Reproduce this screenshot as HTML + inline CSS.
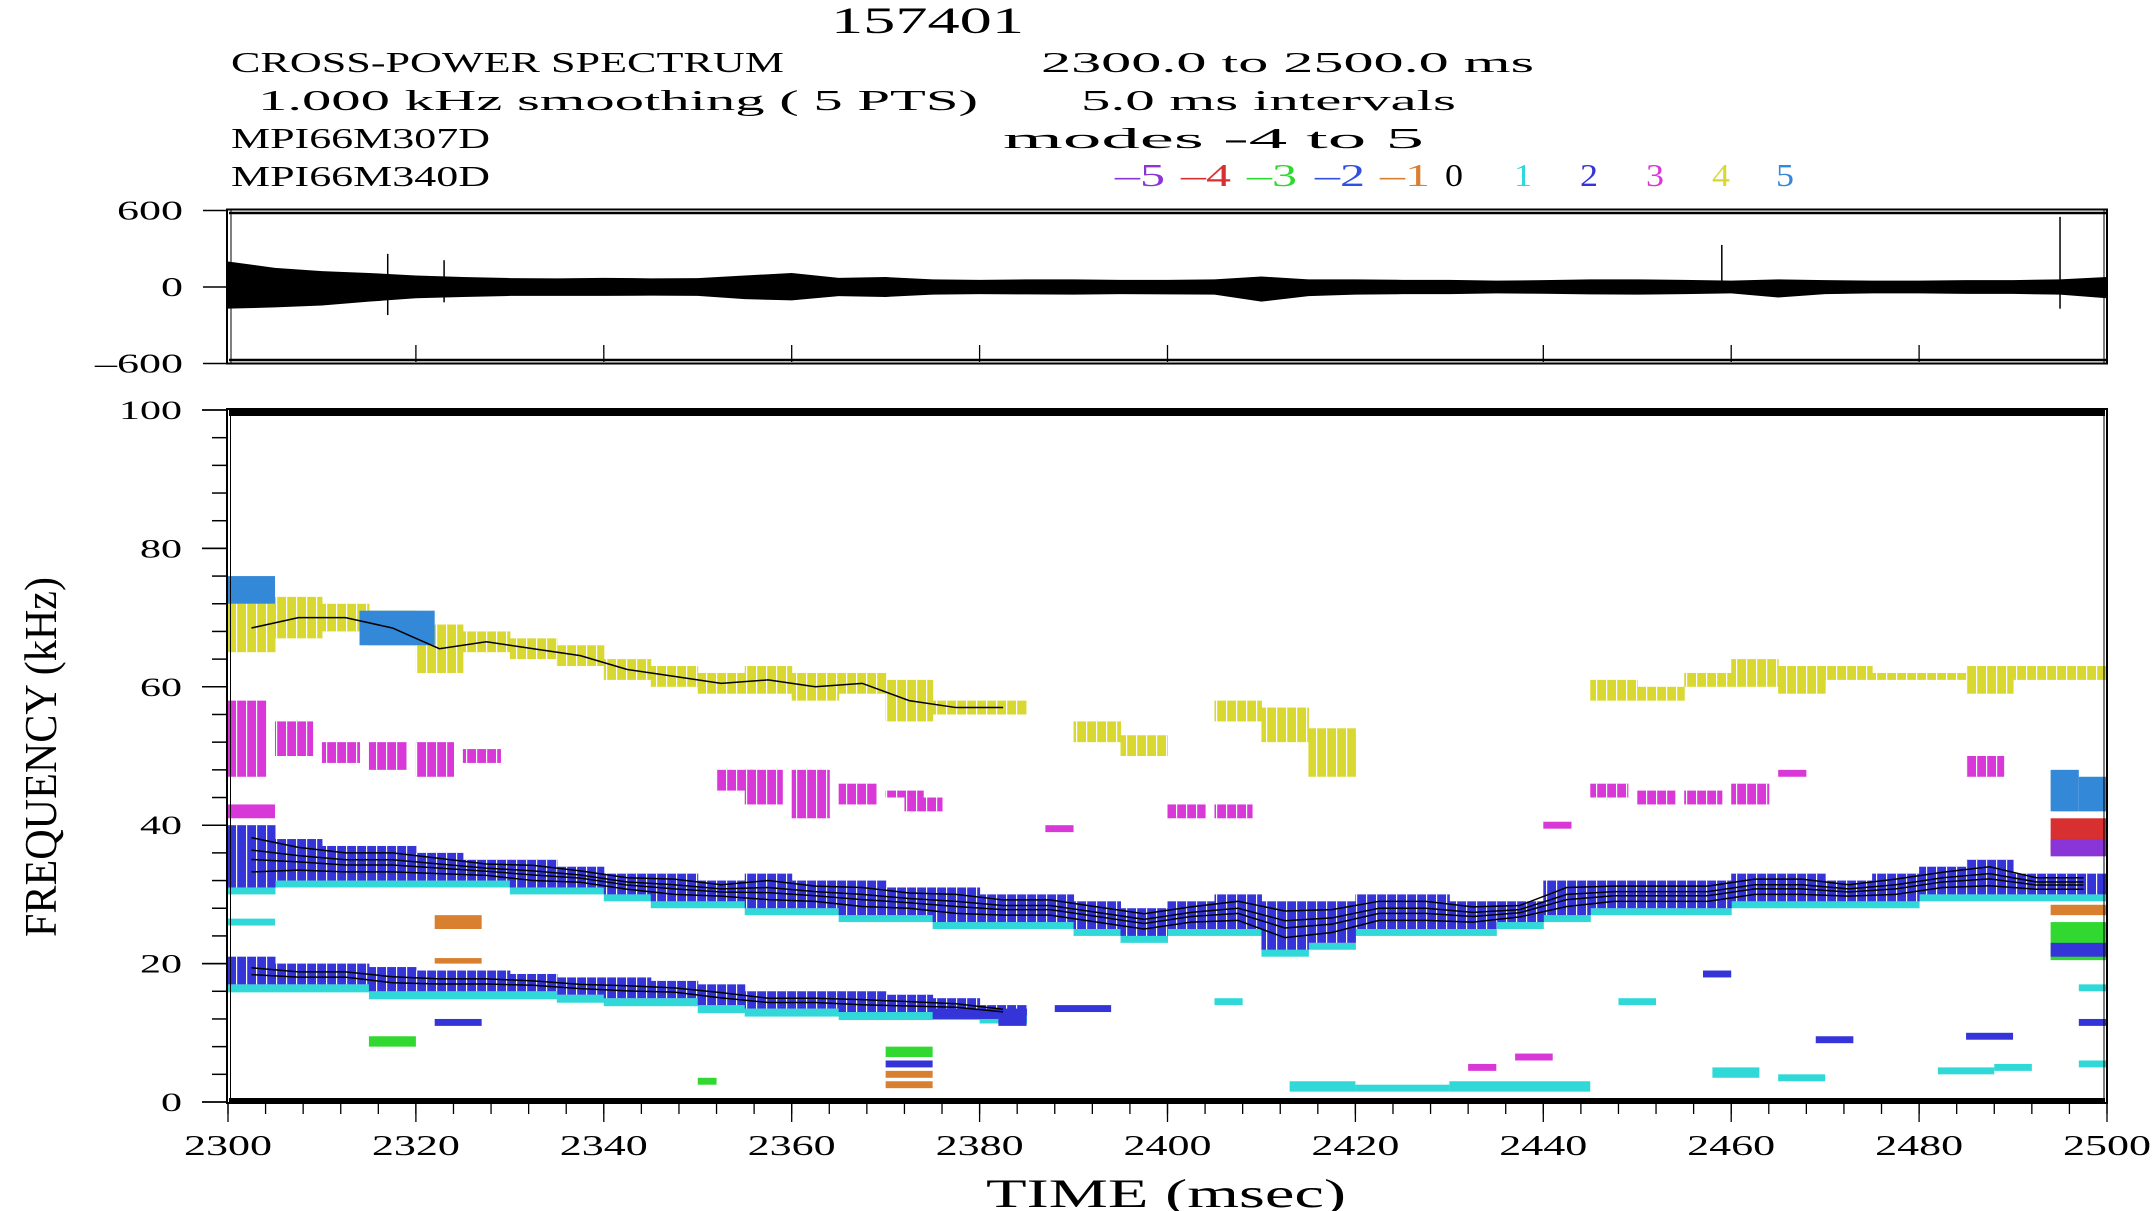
<!DOCTYPE html>
<html><head><meta charset="utf-8"><style>
html,body{margin:0;padding:0;background:#fff;}
svg{display:block;}
text{font-family:"Liberation Serif",serif;fill:#000;}
</style></head><body>
<svg id="chart" width="2155" height="1211" viewBox="0 0 2155 1211" xmlns="http://www.w3.org/2000/svg">
<defs>
<pattern id="hatch" patternUnits="userSpaceOnUse" width="10" height="10"><rect x="6" y="0" width="1.2" height="10" fill="#fff"/></pattern>
</defs>
<g>
<text x="831" y="33" font-size="37" textLength="193" lengthAdjust="spacingAndGlyphs">157401</text>
<text x="231" y="72" font-size="29" textLength="553" lengthAdjust="spacingAndGlyphs">CROSS-POWER SPECTRUM</text>
<text x="1041" y="72" font-size="29" textLength="493" lengthAdjust="spacingAndGlyphs">2300.0 to  2500.0 ms</text>
<text x="258" y="110" font-size="29" textLength="720" lengthAdjust="spacingAndGlyphs">1.000 kHz smoothing (  5 PTS)</text>
<text x="1081" y="110" font-size="29" textLength="375" lengthAdjust="spacingAndGlyphs">5.0 ms intervals</text>
<text x="231" y="148" font-size="29" textLength="259" lengthAdjust="spacingAndGlyphs">MPI66M307D</text>
<text x="1003" y="148" font-size="29" textLength="421" lengthAdjust="spacingAndGlyphs">modes  -4 to   5</text>
<text x="231" y="186" font-size="29" textLength="259" lengthAdjust="spacingAndGlyphs">MPI66M340D</text>
</g>
<g id="legend"></g>
<g id="top"></g>
<g id="bot"></g>
<text x="986" y="1207" font-size="40" textLength="360" lengthAdjust="spacingAndGlyphs">TIME (msec)</text>
<text transform="translate(56,937) rotate(-90)" font-size="46" textLength="360" lengthAdjust="spacingAndGlyphs">FREQUENCY (kHz)</text>
</svg>
<script>
// ---- data ----
const legendModes = [-5,-4,-3,-2,-1,0,1,2,3,4,5];
const legendX = [1115,1181,1247,1315,1380,1445,1514,1580,1646,1712,1776];
const modeColors = {"-5":"#8a35d8","-4":"#d83030","-3":"#30d830","-2":"#3050e0","-1":"#d88030","0":"#000000","1":"#30d8d8","2":"#3434d8","3":"#d838d8","4":"#d8d830","5":"#3488d8"};
const sigTimes = [2300,2305,2310,2315,2320,2325,2330,2335,2340,2345,2350,2355,2360,2365,2370,2375,2380,2385,2390,2395,2400,2405,2410,2415,2420,2425,2430,2435,2440,2445,2450,2455,2460,2465,2470,2475,2480,2485,2490,2495,2500];
const sigUpper = [200,150,125,110,90,78,70,68,72,68,70,90,110,72,78,60,56,60,60,56,56,60,82,60,60,56,56,50,54,60,60,56,50,60,54,50,50,54,54,60,78];
const sigLower = [-170,-160,-145,-115,-88,-78,-70,-70,-70,-68,-70,-95,-105,-72,-78,-60,-56,-58,-60,-56,-58,-60,-115,-72,-60,-56,-56,-50,-53,-58,-60,-56,-50,-82,-56,-50,-50,-54,-54,-60,-88];
const spikeT = [2317,2323,2459,2495];
const spikeHi = [260,210,330,550];
const spikeLo = [-220,-120,-40,-170];
const sigTickTimes = [2320,2340,2360,2380,2400,2440,2460,2480];
const xTickLabels = [2300,2320,2340,2360,2380,2400,2420,2440,2460,2480,2500];
const yTickLabels = [0,20,40,60,80,100];
const bandT  = [2300,2305,2310,2315,2320,2325,2330,2335,2340,2345,2350,2355,2360,2365,2370,2375,2380,2385,2390,2395,2400,2405,2410,2415,2420,2425,2430,2435,2440,2445,2450,2455,2460,2465,2470,2475,2480,2485,2490,2495];
const bandLo = [31,32,32,32,32,32,31,31,30,29,29,28,28,27,27,26,26,26,25,24,25,25,22,23,25,25,25,26,27,28,28,28,29,29,29,29,30,30,30,30];
const bandHi = [40,38,37,37,36,35,35,34,33,33,32,33,32,32,31,31,30,30,29,28,29,30,29,29,30,30,29,29,32,32,32,32,33,33,32,33,34,35,33,33];
const lowT  = [2300,2305,2310,2315,2320,2325,2330,2335,2340,2345,2350,2355,2360,2365,2370,2375,2380];
const lowLo = [17,17,17,16,16,16,16,15.5,15,15,14,13.5,13.5,13,13,13,12.5];
const lowHi = [21,20,20,19.5,19,19,18.5,18,18,17.5,17,16,16,16,15.5,15,14];
const upT  = [2300,2305,2310,2315,2320,2325,2330,2335,2340,2345,2350,2355,2360,2365,2370,2375,2380,2390,2395,2405,2410,2415,2445,2450,2455,2460,2465,2470,2475,2480,2485,2490,2495];
const upLo = [65,67,68,66,62,65,64,63,61,60,59,59,58,59,55,56,56,52,50,55,52,47,58,58,60,60,59,61,61,61,59,61,61];
const upHi = [72,73,72,71,69,68,67,66,64,63,62,63,62,62,61,58,58,55,53,58,57,54,61,60,62,64,63,63,62,62,63,63,63];
const magT  = [2300,2305,2310,2315,2320,2325,2352,2355,2360,2365,2370,2372,2400,2405,2445,2450,2455,2460,2485];
const magLo = [47,50,49,48,47,49,45,43,41,43,44,42,41,41,44,43,43,43,47];
const magHi = [58,55,52,52,52,51,48,48,48,46,45,44,43,43,46,45,45,46,50];
const blobs = [
 [2300,2305,72,76,5],[2314,2322,66,71,5],[2300,2305,41,43,3],[2300,2305,25.5,26.5,1],
 [2322,2327,25,27,-1],[2322,2327,20,20.8,-1],[2315,2320,8,9.5,-3],[2322,2327,11,12,2],
 [2350,2352,2.5,3.5,-3],[2370,2375,6.5,8,-3],[2370,2375,5,6,2],[2370,2375,3.5,4.5,-1],[2370,2375,2,3,-1],
 [2375,2382,12,13.5,2],[2382,2385,11,13.5,2],[2388,2394,13,14,2],
 [2413,2420,1.5,3,1],[2420,2430,1.5,2.5,1],[2430,2445,1.5,3,1],[2432,2435,4.5,5.5,3],[2437,2441,6,7,3],
 [2448,2452,14,15,1],[2458,2463,3.5,5,1],[2465,2470,3,4,1],[2469,2473,8.5,9.5,2],
 [2482,2488,4,5,1],[2485,2490,9,10,2],[2488,2492,4.5,5.5,1],[2457,2460,18,19,2],
 [2387,2390,39,40,3],[2440,2443,39.5,40.5,3],[2465,2468,47,48,3],
 [2494,2497,42,48,5],[2497,2500,42,47,5],[2494,2500,36,41,-4],[2494,2500,35.5,38,-5],
 [2494,2500,27,28.5,-1],[2494,2500,20.5,26,-3],[2494,2500,21,23,2],[2497,2500,16,17,1],
 [2497,2500,11,12,2],[2497,2500,5,6,1],[2405,2408,14,15,1]
];
// ---- scales ----
const X = t => 228 + (t-2300)*9.395;
const Y = f => 1102 - f*6.92;
const YS = v => 287 - v*(76.5/600);
const NS = "http://www.w3.org/2000/svg";
function mk(parent, tag, attrs){const e=document.createElementNS(NS,tag);for(const k in attrs)e.setAttribute(k,attrs[k]);parent.appendChild(e);return e;}

const lg=document.getElementById('legend');
legendModes.forEach((m,i)=>{
  const lbl = m<0 ? '\u2013'+(-m) : String(m);
  const t=mk(lg,'text',{x:legendX[i],y:186,'font-size':32,textLength:m<0?50:18,lengthAdjust:'spacingAndGlyphs'});
  
  
  t.setAttribute('style','fill:'+modeColors[m]);
  t.textContent = lbl;
});

const tp=document.getElementById('top');
let pts=[];
sigTimes.forEach((t,i)=>pts.push(X(t)+','+YS(sigUpper[i])));
for(let i=sigTimes.length-1;i>=0;i--)pts.push(X(sigTimes[i])+','+YS(sigLower[i]));
const wave=mk(tp,'polygon',{points:pts.join(' '),fill:'#000'});


spikeT.forEach((t,i)=>{
  const s=mk(tp,'line',{x1:X(t),x2:X(t),y1:YS(spikeHi[i]),y2:YS(spikeLo[i]),stroke:'#000','stroke-width':1.5});
  
  
});
mk(tp,'rect',{x:227,y:209.5,width:1880,height:154,fill:'none',stroke:'#000','stroke-width':2});
mk(tp,'line',{x1:229,x2:2106,y1:213,y2:213,stroke:'#000','stroke-width':2.5});
mk(tp,'line',{x1:229,x2:2106,y1:360,y2:360,stroke:'#000','stroke-width':2.5});
mk(tp,'line',{x1:231,x2:231,y1:210,y2:363,stroke:'#000','stroke-width':1});
mk(tp,'line',{x1:2104,x2:2104,y1:210,y2:363,stroke:'#000','stroke-width':1});
sigTickTimes.forEach(t=>mk(tp,'line',{x1:X(t),x2:X(t),y1:345,y2:362,stroke:'#000','stroke-width':1.3}));
[[600,'600'],[0,'0'],[-600,'\u2013600']].forEach(([v,l])=>{
  mk(tp,'line',{x1:203,x2:227,y1:YS(v),y2:YS(v),stroke:'#000','stroke-width':1.5});
  const t=mk(tp,'text',{x:183,y:YS(v)+9,'font-size':27,'text-anchor':'end',textLength:l.length*22,lengthAdjust:'spacingAndGlyphs'});
  
  
  t.textContent=l;
});

const bp=document.getElementById('bot');
function drawBand(T,Lo,Hi,mode,name,w){
  T.forEach((t,i)=>{
    const r=mk(bp,'rect',{x:X(t),y:Y(Hi[i]),width:X(t+w)-X(t)+0.5,height:Y(Lo[i])-Y(Hi[i]),fill:modeColors[mode]});
    
    
    mk(bp,'rect',{x:X(t),y:Y(Hi[i]),width:X(t+w)-X(t),height:Y(Lo[i])-Y(Hi[i]),fill:'url(#hatch)'});
  });
}
bandT.forEach((t,i)=>{
  const r=mk(bp,'rect',{x:X(t),y:Y(bandLo[i]),width:X(t+5)-X(t)+0.5,height:6.92,fill:modeColors[1]});
  
  
});
lowT.forEach((t,i)=>{
  const r=mk(bp,'rect',{x:X(t),y:Y(lowLo[i]),width:X(t+5)-X(t)+0.5,height:8,fill:modeColors[1]});
  
  
});
drawBand(upT,upLo,upHi,4,'upper-band',5);
drawBand(magT,magLo,magHi,3,'magenta-band',4);
drawBand(bandT,bandLo,bandHi,2,'main-band',5);
drawBand(lowT,lowLo,lowHi,2,'low-band',5);
blobs.forEach(b=>{
  const r=mk(bp,'rect',{x:X(b[0]),y:Y(b[3]),width:X(b[1])-X(b[0]),height:Y(b[2])-Y(b[3]),fill:modeColors[b[4]]});
  
  
});
function contour(T,Lo,Hi,frac,name){
  const p=T.map((t,i)=>X(t+2.5)+','+Y(Lo[i]+(Hi[i]-Lo[i])*frac)).join(' ');
  const l=mk(bp,'polyline',{points:p,fill:'none',stroke:'#000','stroke-width':1.5});
  
  
}
[0.25,0.45,0.6,0.8].forEach(f=>contour(bandT,bandLo,bandHi,f,'main-band-contour'));
[0.35,0.6].forEach(f=>contour(lowT,lowLo,lowHi,f,'low-band-contour'));
contour(upT.slice(0,17),upLo.slice(0,17),upHi.slice(0,17),0.5,'upper-band-contour');
mk(bp,'rect',{x:227,y:409,width:1880,height:694,fill:'none',stroke:'#000','stroke-width':2});
mk(bp,'rect',{x:229,y:410,width:1876,height:6,fill:'#000'});
mk(bp,'rect',{x:229,y:1098,width:1876,height:4,fill:'#000'});
mk(bp,'line',{x1:230.5,x2:230.5,y1:410,y2:1102,stroke:'#000','stroke-width':1});
mk(bp,'line',{x1:2104,x2:2104,y1:410,y2:1102,stroke:'#000','stroke-width':1});
for(let f=0;f<=100;f+=4){
  const major=f%20===0;
  mk(bp,'line',{x1:major?202:212,x2:227,y1:Y(f),y2:Y(f),stroke:'#000','stroke-width':1.5});
}
yTickLabels.forEach(f=>{
  mk(bp,'line',{x1:202,x2:227,y1:Y(f),y2:Y(f),stroke:'#000','stroke-width':1.5});
  const t=mk(bp,'text',{x:182,y:Y(f)+9,'font-size':26,'text-anchor':'end',textLength:String(f).length*21,lengthAdjust:'spacingAndGlyphs'});
  
  
  t.textContent=f;
});
for(let t=2300;t<=2500;t+=4){
  mk(bp,'line',{x1:X(t),x2:X(t),y1:1102,y2:1114,stroke:'#000','stroke-width':1.3});
}
xTickLabels.forEach(t=>{
  mk(bp,'line',{x1:X(t),x2:X(t),y1:1102,y2:1122,stroke:'#000','stroke-width':1.3});
  const l=mk(bp,'text',{x:X(t)-44,y:1155,'font-size':28,textLength:88,lengthAdjust:'spacingAndGlyphs'});
  
  
  l.textContent=t;
});
</script>
</body></html>
